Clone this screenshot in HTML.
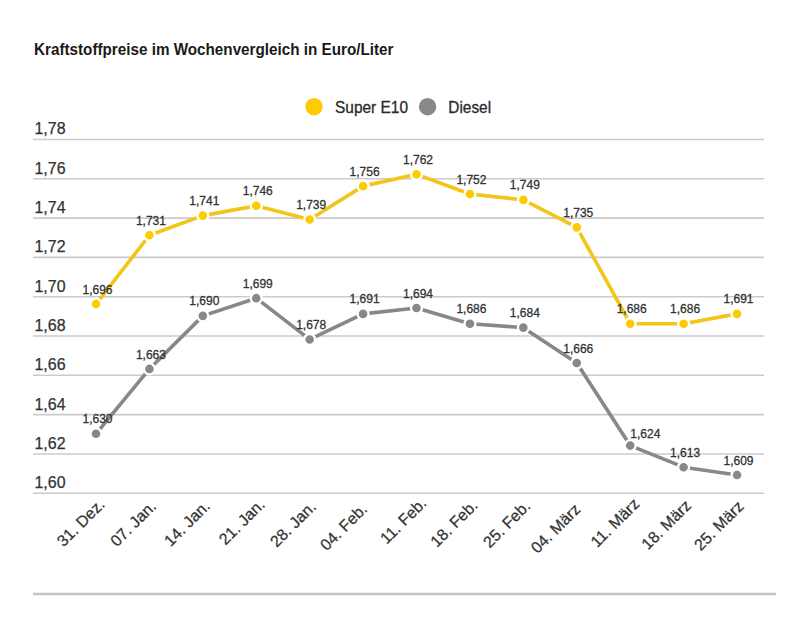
<!DOCTYPE html>
<html><head><meta charset="utf-8"><style>
html,body{margin:0;padding:0;background:#fff;width:809px;height:626px;overflow:hidden}
svg{display:block;font-family:"Liberation Sans", sans-serif}
</style></head><body>
<svg width="809" height="626" viewBox="0 0 809 626">
<rect width="809" height="626" fill="#fff"/>
<text x="34" y="55" font-size="17" font-weight="bold" fill="#1a1a1a" textLength="359.5" lengthAdjust="spacingAndGlyphs">Kraftstoffpreise im Wochenvergleich in Euro/Liter</text>
<circle cx="314" cy="106.7" r="8.7" fill="#fecb00"/>
<text x="335" y="112.6" font-size="16.4" fill="#2a2a2a" stroke="#2a2a2a" stroke-width="0.3" textLength="73" lengthAdjust="spacingAndGlyphs">Super E10</text>
<circle cx="427.6" cy="106.7" r="8.7" fill="#888888"/>
<text x="448.3" y="112.6" font-size="16.4" fill="#2a2a2a" stroke="#2a2a2a" stroke-width="0.3" textLength="42.8" lengthAdjust="spacingAndGlyphs">Diesel</text>

<line x1="33" y1="493.25" x2="764" y2="493.25" stroke="#cbcbcb" stroke-width="1.6"/>
<text x="34.5" y="488.15" font-size="15.6" fill="#333333" stroke="#333333" stroke-width="0.25" textLength="31" lengthAdjust="spacingAndGlyphs">1,60</text>
<line x1="33" y1="453.94" x2="764" y2="453.94" stroke="#cbcbcb" stroke-width="1.6"/>
<text x="34.5" y="448.84" font-size="15.6" fill="#333333" stroke="#333333" stroke-width="0.25" textLength="31" lengthAdjust="spacingAndGlyphs">1,62</text>
<line x1="33" y1="414.63" x2="764" y2="414.63" stroke="#cbcbcb" stroke-width="1.6"/>
<text x="34.5" y="409.53" font-size="15.6" fill="#333333" stroke="#333333" stroke-width="0.25" textLength="31" lengthAdjust="spacingAndGlyphs">1,64</text>
<line x1="33" y1="375.32" x2="764" y2="375.32" stroke="#cbcbcb" stroke-width="1.6"/>
<text x="34.5" y="370.22" font-size="15.6" fill="#333333" stroke="#333333" stroke-width="0.25" textLength="31" lengthAdjust="spacingAndGlyphs">1,66</text>
<line x1="33" y1="336.01" x2="764" y2="336.01" stroke="#cbcbcb" stroke-width="1.6"/>
<text x="34.5" y="330.91" font-size="15.6" fill="#333333" stroke="#333333" stroke-width="0.25" textLength="31" lengthAdjust="spacingAndGlyphs">1,68</text>
<line x1="33" y1="296.70" x2="764" y2="296.70" stroke="#cbcbcb" stroke-width="1.6"/>
<text x="34.5" y="291.60" font-size="15.6" fill="#333333" stroke="#333333" stroke-width="0.25" textLength="31" lengthAdjust="spacingAndGlyphs">1,70</text>
<line x1="33" y1="257.39" x2="764" y2="257.39" stroke="#cbcbcb" stroke-width="1.6"/>
<text x="34.5" y="252.29" font-size="15.6" fill="#333333" stroke="#333333" stroke-width="0.25" textLength="31" lengthAdjust="spacingAndGlyphs">1,72</text>
<line x1="33" y1="218.08" x2="764" y2="218.08" stroke="#cbcbcb" stroke-width="1.6"/>
<text x="34.5" y="212.98" font-size="15.6" fill="#333333" stroke="#333333" stroke-width="0.25" textLength="31" lengthAdjust="spacingAndGlyphs">1,74</text>
<line x1="33" y1="178.77" x2="764" y2="178.77" stroke="#cbcbcb" stroke-width="1.6"/>
<text x="34.5" y="173.67" font-size="15.6" fill="#333333" stroke="#333333" stroke-width="0.25" textLength="31" lengthAdjust="spacingAndGlyphs">1,76</text>
<line x1="33" y1="139.46" x2="764" y2="139.46" stroke="#cbcbcb" stroke-width="1.6"/>
<text x="34.5" y="134.36" font-size="15.6" fill="#333333" stroke="#333333" stroke-width="0.25" textLength="31" lengthAdjust="spacingAndGlyphs">1,78</text>
<line x1="33" y1="594" x2="776" y2="594" stroke="#c4c4c4" stroke-width="2.4"/>
<polyline points="96.00,433.79 149.42,368.92 202.84,315.86 256.26,298.17 309.68,339.44 363.10,313.89 416.52,307.99 469.94,323.72 523.36,327.65 576.78,363.03 630.20,445.58 683.62,467.20 737.04,475.06" fill="none" stroke="#888888" stroke-width="3.6" stroke-linejoin="round" stroke-linecap="round"/><circle cx="96.00" cy="433.79" r="5.45" fill="#888888" stroke="#fff" stroke-width="2.3"/><circle cx="149.42" cy="368.92" r="5.45" fill="#888888" stroke="#fff" stroke-width="2.3"/><circle cx="202.84" cy="315.86" r="5.45" fill="#888888" stroke="#fff" stroke-width="2.3"/><circle cx="256.26" cy="298.17" r="5.45" fill="#888888" stroke="#fff" stroke-width="2.3"/><circle cx="309.68" cy="339.44" r="5.45" fill="#888888" stroke="#fff" stroke-width="2.3"/><circle cx="363.10" cy="313.89" r="5.45" fill="#888888" stroke="#fff" stroke-width="2.3"/><circle cx="416.52" cy="307.99" r="5.45" fill="#888888" stroke="#fff" stroke-width="2.3"/><circle cx="469.94" cy="323.72" r="5.45" fill="#888888" stroke="#fff" stroke-width="2.3"/><circle cx="523.36" cy="327.65" r="5.45" fill="#888888" stroke="#fff" stroke-width="2.3"/><circle cx="576.78" cy="363.03" r="5.45" fill="#888888" stroke="#fff" stroke-width="2.3"/><circle cx="630.20" cy="445.58" r="5.45" fill="#888888" stroke="#fff" stroke-width="2.3"/><circle cx="683.62" cy="467.20" r="5.45" fill="#888888" stroke="#fff" stroke-width="2.3"/><circle cx="737.04" cy="475.06" r="5.45" fill="#888888" stroke="#fff" stroke-width="2.3"/><text x="97.50" y="423.39" font-size="12" fill="#333333" stroke="#333333" stroke-width="0.3" text-anchor="middle">1,630</text><text x="150.92" y="358.52" font-size="12" fill="#333333" stroke="#333333" stroke-width="0.3" text-anchor="middle">1,663</text><text x="204.34" y="305.46" font-size="12" fill="#333333" stroke="#333333" stroke-width="0.3" text-anchor="middle">1,690</text><text x="257.76" y="287.77" font-size="12" fill="#333333" stroke="#333333" stroke-width="0.3" text-anchor="middle">1,699</text><text x="311.18" y="329.04" font-size="12" fill="#333333" stroke="#333333" stroke-width="0.3" text-anchor="middle">1,678</text><text x="364.60" y="303.49" font-size="12" fill="#333333" stroke="#333333" stroke-width="0.3" text-anchor="middle">1,691</text><text x="418.02" y="297.59" font-size="12" fill="#333333" stroke="#333333" stroke-width="0.3" text-anchor="middle">1,694</text><text x="471.44" y="313.32" font-size="12" fill="#333333" stroke="#333333" stroke-width="0.3" text-anchor="middle">1,686</text><text x="524.86" y="317.25" font-size="12" fill="#333333" stroke="#333333" stroke-width="0.3" text-anchor="middle">1,684</text><text x="578.28" y="352.63" font-size="12" fill="#333333" stroke="#333333" stroke-width="0.3" text-anchor="middle">1,666</text><text x="630.30" y="438.10" font-size="12" fill="#333333" stroke="#333333" stroke-width="0.3" text-anchor="start">1,624</text><text x="685.12" y="456.80" font-size="12" fill="#333333" stroke="#333333" stroke-width="0.3" text-anchor="middle">1,613</text><text x="738.54" y="464.66" font-size="12" fill="#333333" stroke="#333333" stroke-width="0.3" text-anchor="middle">1,609</text>
<polyline points="96.00,304.06 149.42,235.27 202.84,215.61 256.26,205.79 309.68,219.55 363.10,186.13 416.52,174.34 469.94,193.99 523.36,199.89 576.78,227.41 630.20,323.72 683.62,323.72 737.04,313.89" fill="none" stroke="#f1c51a" stroke-width="3.6" stroke-linejoin="round" stroke-linecap="round"/><circle cx="96.00" cy="304.06" r="5.45" fill="#fecb00" stroke="#fff" stroke-width="2.3"/><circle cx="149.42" cy="235.27" r="5.45" fill="#fecb00" stroke="#fff" stroke-width="2.3"/><circle cx="202.84" cy="215.61" r="5.45" fill="#fecb00" stroke="#fff" stroke-width="2.3"/><circle cx="256.26" cy="205.79" r="5.45" fill="#fecb00" stroke="#fff" stroke-width="2.3"/><circle cx="309.68" cy="219.55" r="5.45" fill="#fecb00" stroke="#fff" stroke-width="2.3"/><circle cx="363.10" cy="186.13" r="5.45" fill="#fecb00" stroke="#fff" stroke-width="2.3"/><circle cx="416.52" cy="174.34" r="5.45" fill="#fecb00" stroke="#fff" stroke-width="2.3"/><circle cx="469.94" cy="193.99" r="5.45" fill="#fecb00" stroke="#fff" stroke-width="2.3"/><circle cx="523.36" cy="199.89" r="5.45" fill="#fecb00" stroke="#fff" stroke-width="2.3"/><circle cx="576.78" cy="227.41" r="5.45" fill="#fecb00" stroke="#fff" stroke-width="2.3"/><circle cx="630.20" cy="323.72" r="5.45" fill="#fecb00" stroke="#fff" stroke-width="2.3"/><circle cx="683.62" cy="323.72" r="5.45" fill="#fecb00" stroke="#fff" stroke-width="2.3"/><circle cx="737.04" cy="313.89" r="5.45" fill="#fecb00" stroke="#fff" stroke-width="2.3"/><text x="97.50" y="293.66" font-size="12" fill="#333333" stroke="#333333" stroke-width="0.3" text-anchor="middle">1,696</text><text x="150.92" y="224.87" font-size="12" fill="#333333" stroke="#333333" stroke-width="0.3" text-anchor="middle">1,731</text><text x="204.34" y="205.21" font-size="12" fill="#333333" stroke="#333333" stroke-width="0.3" text-anchor="middle">1,741</text><text x="257.76" y="195.39" font-size="12" fill="#333333" stroke="#333333" stroke-width="0.3" text-anchor="middle">1,746</text><text x="311.18" y="209.15" font-size="12" fill="#333333" stroke="#333333" stroke-width="0.3" text-anchor="middle">1,739</text><text x="364.60" y="175.73" font-size="12" fill="#333333" stroke="#333333" stroke-width="0.3" text-anchor="middle">1,756</text><text x="418.02" y="163.94" font-size="12" fill="#333333" stroke="#333333" stroke-width="0.3" text-anchor="middle">1,762</text><text x="471.44" y="183.59" font-size="12" fill="#333333" stroke="#333333" stroke-width="0.3" text-anchor="middle">1,752</text><text x="524.86" y="189.49" font-size="12" fill="#333333" stroke="#333333" stroke-width="0.3" text-anchor="middle">1,749</text><text x="578.28" y="217.01" font-size="12" fill="#333333" stroke="#333333" stroke-width="0.3" text-anchor="middle">1,735</text><text x="631.70" y="313.32" font-size="12" fill="#333333" stroke="#333333" stroke-width="0.3" text-anchor="middle">1,686</text><text x="685.12" y="313.32" font-size="12" fill="#333333" stroke="#333333" stroke-width="0.3" text-anchor="middle">1,686</text><text x="738.54" y="303.49" font-size="12" fill="#333333" stroke="#333333" stroke-width="0.3" text-anchor="middle">1,691</text>
<text transform="translate(105.70,505.4) rotate(-45)" font-size="16" fill="#333333" stroke="#333333" stroke-width="0.25" text-anchor="end">31. Dez.</text>
<text transform="translate(157.17,507.35) rotate(-45)" font-size="16" fill="#333333" stroke="#333333" stroke-width="0.25" text-anchor="end">07. Jan.</text>
<text transform="translate(210.89,507.05) rotate(-45)" font-size="16" fill="#333333" stroke="#333333" stroke-width="0.25" text-anchor="end">14. Jan.</text>
<text transform="translate(265.81,505.55) rotate(-45)" font-size="16" fill="#333333" stroke="#333333" stroke-width="0.25" text-anchor="end">21. Jan.</text>
<text transform="translate(317.03,507.75) rotate(-45)" font-size="16" fill="#333333" stroke="#333333" stroke-width="0.25" text-anchor="end">28. Jan.</text>
<text transform="translate(368.20,510.0) rotate(-45)" font-size="16" fill="#333333" stroke="#333333" stroke-width="0.25" text-anchor="end">04. Feb.</text>
<text transform="translate(427.42,504.20000000000005) rotate(-45)" font-size="16" fill="#333333" stroke="#333333" stroke-width="0.25" text-anchor="end">11. Feb.</text>
<text transform="translate(478.59,506.45000000000005) rotate(-45)" font-size="16" fill="#333333" stroke="#333333" stroke-width="0.25" text-anchor="end">18. Feb.</text>
<text transform="translate(531.31,507.15) rotate(-45)" font-size="16" fill="#333333" stroke="#333333" stroke-width="0.25" text-anchor="end">25. Feb.</text>
<text transform="translate(581.53,510.35) rotate(-45)" font-size="16" fill="#333333" stroke="#333333" stroke-width="0.25" text-anchor="end">04. März</text>
<text transform="translate(640.35,504.95000000000005) rotate(-45)" font-size="16" fill="#333333" stroke="#333333" stroke-width="0.25" text-anchor="end">11. März</text>
<text transform="translate(692.12,506.6) rotate(-45)" font-size="16" fill="#333333" stroke="#333333" stroke-width="0.25" text-anchor="end">18. März</text>
<text transform="translate(744.74,507.4) rotate(-45)" font-size="16" fill="#333333" stroke="#333333" stroke-width="0.25" text-anchor="end">25. März</text>
</svg></body></html>
